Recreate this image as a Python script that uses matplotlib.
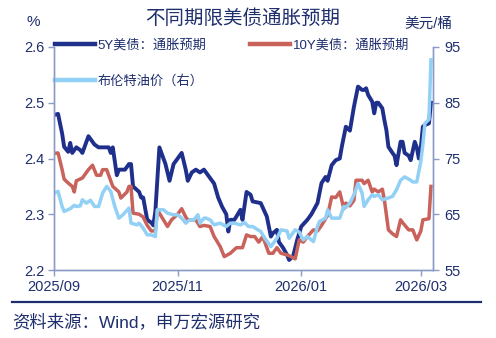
import matplotlib
matplotlib.use("Agg")
import matplotlib.pyplot as plt
import matplotlib.dates as mdates
import pandas as pd
from matplotlib.lines import Line2D

plt.rcParams['font.family'] = ['Liberation Sans', 'Noto Sans CJK SC', 'DejaVu Sans']

# ---------------- data ----------------
y5_dates = ["2025-09-01","2025-09-03","2025-09-05","2025-09-06","2025-09-08","2025-09-09","2025-09-10",
            "2025-09-12","2025-09-14","2025-09-15","2025-09-18","2025-09-21","2025-09-23","2025-09-28",
            "2025-09-29","2025-09-30","2025-10-02","2025-10-03","2025-10-06","2025-10-08","2025-10-09",
            "2025-10-10","2025-10-13","2025-10-14","2025-10-15","2025-10-17","2025-10-19","2025-10-20",
            "2025-10-21","2025-10-23","2025-10-26","2025-10-28","2025-10-30","2025-11-01","2025-11-03",
            "2025-11-05","2025-11-06","2025-11-08","2025-11-10","2025-11-12","2025-11-14","2025-11-16",
            "2025-11-19","2025-11-21","2025-11-23","2025-11-25","2025-11-26","2025-11-27","2025-11-29",
            "2025-12-02","2025-12-03","2025-12-05","2025-12-07","2025-12-08","2025-12-12","2025-12-15",
            "2025-12-17","2025-12-18","2025-12-20","2025-12-21","2025-12-23","2025-12-25","2025-12-26",
            "2025-12-28","2025-12-30","2026-01-01","2026-01-04","2026-01-06","2026-01-09","2026-01-11",
            "2026-01-13","2026-01-14","2026-01-16","2026-01-18","2026-01-20","2026-01-21","2026-01-23",
            "2026-01-25","2026-01-27","2026-01-29","2026-01-31","2026-02-01","2026-02-02","2026-02-03",
            "2026-02-05","2026-02-06","2026-02-07","2026-02-08","2026-02-10","2026-02-11","2026-02-12",
            "2026-02-13","2026-02-15","2026-02-16","2026-02-17","2026-02-19","2026-02-20","2026-02-21",
            "2026-02-23","2026-02-24","2026-02-26","2026-02-27","2026-02-28","2026-03-01","2026-03-02",
            "2026-03-03","2026-03-05","2026-03-06"]
y5_values = [2.478,2.48,2.445,2.421,2.412,2.428,2.41,
             2.42,2.415,2.41,2.44,2.425,2.42,2.42,
             2.41,2.42,2.37,2.38,2.38,2.39,2.39,
             2.35,2.34,2.33,2.33,2.29,2.285,2.28,
             2.305,2.42,2.39,2.36,2.39,2.40,2.41,
             2.38,2.36,2.375,2.38,2.375,2.38,2.37,
             2.355,2.33,2.313,2.30,2.269,2.29,2.29,
             2.308,2.29,2.34,2.335,2.323,2.32,2.296,
             2.26,2.266,2.272,2.25,2.24,2.227,2.218,
             2.225,2.254,2.278,2.29,2.30,2.32,2.356,
             2.367,2.36,2.388,2.397,2.40,2.421,2.457,
             2.45,2.493,2.529,2.523,2.523,2.526,2.514,
             2.502,2.481,2.50,2.50,2.49,2.469,2.451,
             2.421,2.41,2.405,2.388,2.43,2.43,2.41,
             2.405,2.397,2.43,2.42,2.40,2.42,2.457,
             2.46,2.463,2.50]

y10_dates = ["2025-09-01","2025-09-03","2025-09-05","2025-09-06","2025-09-08","2025-09-10","2025-09-11",
             "2025-09-12","2025-09-15","2025-09-18","2025-09-20","2025-09-22","2025-09-24","2025-09-25",
             "2025-09-27","2025-09-29","2025-09-30","2025-10-03","2025-10-04","2025-10-07","2025-10-08",
             "2025-10-09","2025-10-10","2025-10-13","2025-10-15","2025-10-17","2025-10-19","2025-10-21",
             "2025-10-22","2025-10-25","2025-10-27","2025-10-29","2025-11-01","2025-11-03","2025-11-05",
             "2025-11-06","2025-11-10","2025-11-12","2025-11-14","2025-11-17","2025-11-19","2025-11-22",
             "2025-11-24","2025-11-27","2025-11-30","2025-12-03","2025-12-05","2025-12-07","2025-12-09",
             "2025-12-11","2025-12-13","2025-12-16","2025-12-18","2025-12-20","2025-12-22","2025-12-25",
             "2025-12-27","2025-12-29","2025-12-31","2026-01-02","2026-01-04","2026-01-07","2026-01-09",
             "2026-01-11","2026-01-14","2026-01-16","2026-01-18","2026-01-20","2026-01-22","2026-01-23",
             "2026-01-25","2026-01-27","2026-01-28","2026-01-31","2026-02-01","2026-02-03","2026-02-05",
             "2026-02-06","2026-02-08","2026-02-10","2026-02-11","2026-02-13","2026-02-15","2026-02-17",
             "2026-02-19","2026-02-20","2026-02-23","2026-02-25","2026-02-27","2026-03-01","2026-03-02",
             "2026-03-05","2026-03-06"]
y10_values = [2.409,2.41,2.38,2.363,2.356,2.35,2.34,
              2.36,2.365,2.38,2.388,2.37,2.37,2.38,
              2.38,2.36,2.35,2.34,2.329,2.34,2.35,
              2.35,2.302,2.30,2.295,2.28,2.27,2.27,
              2.308,2.29,2.278,2.29,2.30,2.31,2.295,
              2.29,2.29,2.278,2.28,2.278,2.26,2.242,
              2.224,2.23,2.24,2.24,2.263,2.26,2.26,
              2.25,2.26,2.23,2.23,2.24,2.23,2.227,
              2.224,2.22,2.254,2.25,2.26,2.272,2.27,
              2.28,2.298,2.331,2.33,2.34,2.31,2.32,
              2.315,2.325,2.361,2.361,2.355,2.361,2.34,
              2.345,2.34,2.345,2.326,2.272,2.265,2.26,
              2.29,2.285,2.272,2.272,2.254,2.27,2.29,
              2.292,2.35]

brent_dates = ["2025-09-01","2025-09-03","2025-09-05","2025-09-06","2025-09-09","2025-09-11","2025-09-12",
               "2025-09-14","2025-09-15","2025-09-17","2025-09-19","2025-09-21","2025-09-23","2025-09-25",
               "2025-09-27","2025-09-29","2025-10-01","2025-10-03","2025-10-05","2025-10-08","2025-10-09",
               "2025-10-12","2025-10-13","2025-10-15","2025-10-17","2025-10-19","2025-10-21","2025-10-22",
               "2025-10-25","2025-10-27","2025-10-30","2025-11-01","2025-11-03","2025-11-05","2025-11-07",
               "2025-11-09","2025-11-11","2025-11-12","2025-11-14","2025-11-15","2025-11-17","2025-11-19",
               "2025-11-22","2025-11-25","2025-11-27","2025-11-29","2025-12-02","2025-12-04","2025-12-06",
               "2025-12-08","2025-12-12","2025-12-14","2025-12-17","2025-12-20","2025-12-22","2025-12-25",
               "2025-12-26","2025-12-29","2025-12-31","2026-01-02","2026-01-04","2026-01-07","2026-01-09",
               "2026-01-10","2026-01-13","2026-01-14","2026-01-16","2026-01-18","2026-01-20","2026-01-22",
               "2026-01-23","2026-01-25","2026-01-27","2026-01-29","2026-01-31","2026-02-01","2026-02-03",
               "2026-02-05","2026-02-06","2026-02-08","2026-02-10","2026-02-12","2026-02-15","2026-02-17",
               "2026-02-19","2026-02-21","2026-02-24","2026-02-25","2026-02-27","2026-03-01","2026-03-02",
               "2026-03-03","2026-03-05","2026-03-06"]
brent_values = [68.8,69.1,66.4,65.5,66.0,66.6,66.4,
                66.5,67.6,67.0,67.5,66.4,66.4,68.8,
                70.0,69.1,66.4,64.3,64.9,66.1,63.4,
                63.1,63.4,62.5,61.3,61.3,61.0,65.8,
                65.8,65.2,64.9,64.9,64.3,63.4,64.0,
                64.0,64.9,63.4,64.3,64.3,64.0,63.1,
                63.4,62.8,63.4,63.4,63.1,63.5,62.8,
                62.8,61.9,60.7,59.2,60.7,62.2,62.0,
                60.7,62.2,61.8,60.4,61.0,60.1,62.8,
                63.7,64.3,65.8,64.3,64.3,64.3,66.4,
                66.2,67.0,68.5,70.5,68.8,66.4,67.6,
                68.5,68.2,68.5,67.6,67.8,68.2,69.4,
                71.1,71.7,71.1,70.8,70.8,74.5,77.5,
                81.3,82.0,92.7]

left_ticks = [2.2, 2.3, 2.4, 2.5, 2.6]
right_ticks = [55, 65, 75, 85, 95]
x_ticks = ["2025-09-01", "2025-11-01", "2026-01-01", "2026-03-01"]

# ---------------- style ----------------
NAVY = '#1f2f8c'
RED = '#c8625a'
LIGHT = '#92d0f5'
TXT = '#1f2f6e'
SPINE = '#8a9cc6'

W, H = 496, 338
fig = plt.figure(figsize=(W / 100, H / 100), dpi=100)
ax = fig.add_axes([54 / W, 1 - 270 / H, (433 - 54) / W, (270 - 47) / H])
ax2 = ax.twinx()

l5, = ax.plot(pd.to_datetime(y5_dates), y5_values, color=NAVY, lw=2.8)
l10, = ax.plot(pd.to_datetime(y10_dates), y10_values, color=RED, lw=2.5)
lb, = ax2.plot(pd.to_datetime(brent_dates), brent_values, color=LIGHT, lw=2.5)

ax.set_ylim(2.2, 2.6)
ax2.set_ylim(55, 95)
ax.set_yticks(left_ticks)
ax.set_yticklabels([f"{v:.1f}" for v in left_ticks])
ax2.set_yticks(right_ticks)
ax2.set_yticklabels([str(v) for v in right_ticks])
ax.set_xlim(pd.Timestamp("2025-09-01"), pd.Timestamp("2026-03-07"))
ax.set_xticks(pd.to_datetime(x_ticks))
ax.xaxis.set_major_formatter(mdates.DateFormatter("%Y/%m"))

for a in (ax, ax2):
    for s in a.spines.values():
        s.set_color(SPINE)
        s.set_linewidth(1.0)
    a.spines['top'].set_visible(False)
    a.tick_params(colors=SPINE, labelcolor=TXT, labelsize=10.5, length=4, width=1.0, direction='out')
ax.tick_params(axis='y', pad=3)
ax.tick_params(axis='x', pad=3)
ax2.tick_params(axis='y', pad=4)

# legend
leg = ax.legend([l5, lb, l10], ["5Y美债：通胀预期", "布伦特油价（右）", "10Y美债：通胀预期"],
                ncol=2, frameon=False, loc='upper left',
                bbox_to_anchor=(55 / W, 1 - 39 / H), bbox_transform=fig.transFigure,
                borderpad=0, borderaxespad=0, handlelength=3.0, handletextpad=0.25,
                columnspacing=3.3, labelspacing=1.8, fontsize=9.5)
for t in leg.get_texts():
    t.set_color(TXT)
for h in leg.legend_handles:
    h.set_linewidth(3.2)

# texts
fig.text(243 / W, 1 - 18.5 / H, "不同期限美债通胀预期", ha='center', va='center', fontsize=14, color=TXT)
fig.text(33 / W, 1 - 22 / H, "%", ha='center', va='center', fontsize=11, color=TXT)
fig.text(428 / W, 1 - 24 / H, "美元/桶", ha='center', va='center', fontsize=10.5, color=TXT)

fig.add_artist(Line2D([12 / W, 481 / W], [1 - 302 / H, 1 - 302 / H], transform=fig.transFigure,
                      color=TXT, lw=1.6))
fig.text(12 / W, 1 - 322 / H, "资料来源：Wind，申万宏源研究", ha='left', va='center', fontsize=12.5, color=TXT)

fig.savefig("out.png", dpi=100, facecolor='white')
